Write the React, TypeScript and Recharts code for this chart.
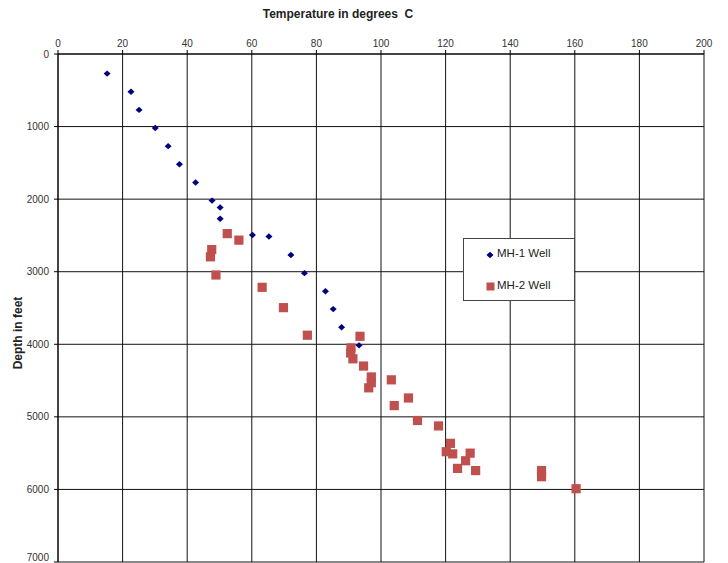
import { ScatterChart, Scatter, XAxis, YAxis, CartesianGrid, Legend, Label } from "recharts";

// temperature (deg C) and depth (ft) readings
const mh1Temp = [15.2, 22.6, 25.1, 30.1, 34.1, 37.6, 42.6, 47.7, 50.2, 50.2, 60.2, 65.3, 72.1, 76.3, 82.8, 85.2, 87.8, 93.2];
const mh1Depth = [270, 520, 770, 1020, 1270, 1520, 1770, 2020, 2115, 2270, 2495, 2515, 2770, 3020, 3270, 3515, 3765, 4015];

const mh2Temp = [52.4, 56.0, 47.6, 47.2, 48.9, 63.2, 69.8, 77.2, 93.5, 90.7, 90.6, 91.3, 94.6, 97.0, 97.0, 96.2, 103.2, 108.5, 104.1, 111.3, 117.8, 121.5, 120.2, 122.2, 127.6, 126.2, 123.7, 129.3, 149.7, 149.7, 160.4];
const mh2Depth = [2475, 2565, 2695, 2795, 3045, 3215, 3495, 3875, 3890, 4050, 4120, 4200, 4300, 4450, 4530, 4600, 4490, 4740, 4845, 5050, 5125, 5365, 5480, 5510, 5500, 5605, 5710, 5740, 5740, 5825, 5990];

const tempTicks = [0, 20, 40, 60, 80, 100, 120, 140, 160, 180, 200];
const depthTicks = [0, 1000, 2000, 3000, 4000, 5000, 6000, 7000];

const mh1 = mh1Temp.map((t, i) => ({ t, d: mh1Depth[i] }));
const mh2 = mh2Temp.map((t, i) => ({ t, d: mh2Depth[i] }));

const NAVY = "#000080";
const RED = "#C0504D";
const FONT = "'Liberation Sans', Arial, sans-serif";

const Diamond = (p: any) => (
  <polygon
    points={`${p.cx - 3.5},${p.cy} ${p.cx},${p.cy - 3.2} ${p.cx + 3.5},${p.cy} ${p.cx},${p.cy + 3.2}`}
    fill={NAVY}
  />
);

const Square = (p: any) => <rect x={p.cx - 4.6} y={p.cy - 4.6} width={9.2} height={9.2} fill={RED} />;

const renderLegend = () => (
  <div
    style={{
      width: 110,
      height: 61,
      border: "1px solid #444",
      background: "#fff",
      fontFamily: FONT,
      fontSize: 11.5,
      color: "#222",
      position: "relative",
    }}
  >
    <svg width={12} height={12} style={{ position: "absolute", left: 20, top: 10 }}>
      <polygon points="2.5,6 6,2.8 9.5,6 6,9.2" fill={NAVY} />
    </svg>
    <span style={{ position: "absolute", left: 33, top: 8 }}>MH-1 Well</span>
    <svg width={12} height={12} style={{ position: "absolute", left: 21, top: 42 }}>
      <rect x={1.5} y={1.5} width={8} height={8} fill={RED} />
    </svg>
    <span style={{ position: "absolute", left: 33, top: 40 }}>MH-2 Well</span>
  </div>
);

export default function App() {
  return (
    <div style={{ position: "absolute", left: 0, top: 0 }}>
      <ScatterChart
        width={728}
        height={563}
        margin={{ top: 24, right: 24, bottom: 1, left: 10 }}
        style={{ fontFamily: FONT }}
      >
        <CartesianGrid stroke="#111" strokeWidth={1} />
        <XAxis
          type="number"
          dataKey="t"
          orientation="top"
          domain={[0, 200]}
          ticks={tempTicks}
          height={30}
          tickSize={4}
          tickMargin={3}
          stroke="#000"
          tick={{ fontSize: 10, fill: "#333" }}
        >
          <Label
            content={() => (
              <text x={338} y={18} textAnchor="middle" fontSize={12} fontWeight="bold" fill="#222" style={{ whiteSpace: "pre" }}>
                {"Temperature in degrees\u00a0 C"}
              </text>
            )}
          />
        </XAxis>
        <YAxis
          type="number"
          dataKey="d"
          reversed
          domain={[0, 7000]}
          ticks={depthTicks}
          width={48}
          tickSize={4}
          tickMargin={5}
          stroke="#000"
          tick={{ fontSize: 10, fill: "#333" }}
        >
          <Label
            content={() => (
              <text
                x={22}
                y={333}
                transform="rotate(-90 22 333)"
                textAnchor="middle"
                fontSize={12}
                fontWeight="bold"
                fill="#222"
              >
                Depth in feet
              </text>
            )}
          />
        </YAxis>
        <Legend
          layout="vertical"
          align="center"
          verticalAlign="middle"
          content={renderLegend}
          wrapperStyle={{ left: 463, top: 238, width: 112, height: 63 }}
        />
        <Scatter name="MH-1 Well" data={mh1} shape={Diamond} isAnimationActive={false} />
        <Scatter name="MH-2 Well" data={mh2} shape={Square} isAnimationActive={false} />
      </ScatterChart>
    </div>
  );
}
